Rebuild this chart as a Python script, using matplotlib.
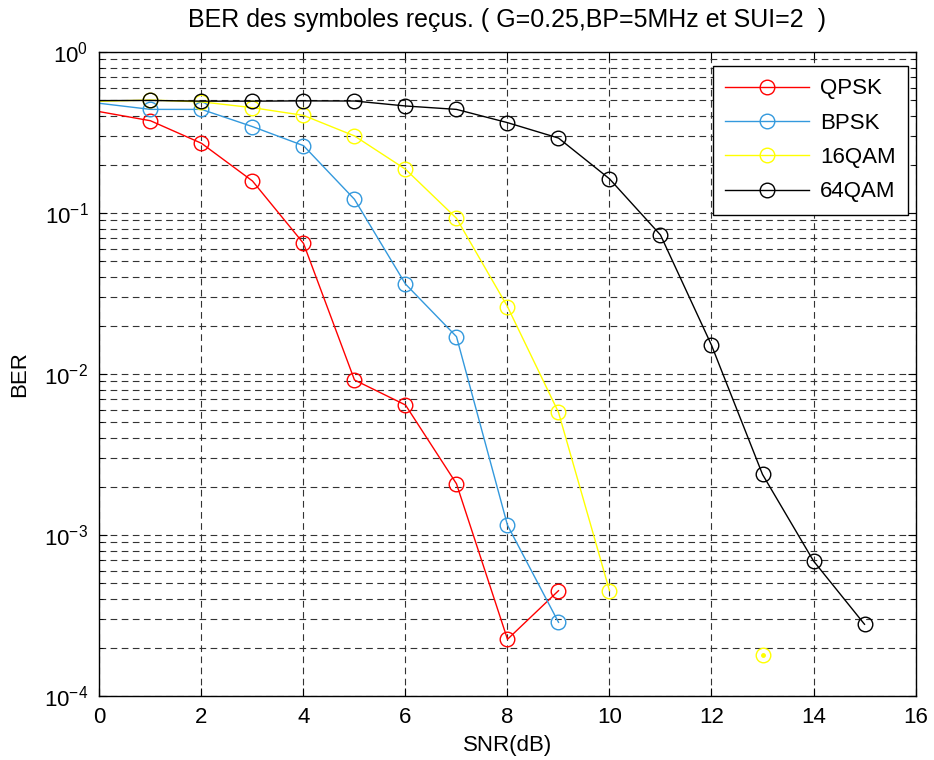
import numpy as np
import matplotlib
matplotlib.use("Agg")
import matplotlib.pyplot as plt
from matplotlib.ticker import LogLocator, NullFormatter

plt.rcParams['font.family'] = ['Liberation Sans', 'DejaVu Sans']
plt.rcParams['mathtext.fontset'] = 'custom'
plt.rcParams['mathtext.rm'] = 'Liberation Sans'
plt.rcParams['mathtext.it'] = 'Liberation Sans'
plt.rcParams['mathtext.default'] = 'regular'

snr = [0, 1, 2, 3, 4, 5, 6, 7, 8, 9, 10, 11, 12, 13, 14, 15]

ber_qpsk = [0.426, 0.374, 0.271, 0.158, 0.0648, 0.00918, 0.00642, 0.00208, 0.000225, 0.000451]
ber_bpsk = [0.48, 0.44, 0.44, 0.344, 0.262, 0.1216, 0.0362, 0.01706, 0.00115, 0.000287]
ber_16qam = [0.494, 0.503, 0.49, 0.451, 0.404, 0.301, 0.187, 0.0927, 0.0262, 0.00578, 0.000451,
             np.nan, np.nan, 0.000179]
ber_64qam = [0.499, 0.5, 0.495, 0.495, 0.497, 0.496, 0.462, 0.44, 0.364, 0.292, 0.163, 0.073,
             0.0151, 0.00238, 0.00069, 0.000279]

labels = ['QPSK', 'BPSK', '16QAM', '64QAM']
colors = ['#ff0000', '#3399dd', '#ffff00', '#000000']
series = [ber_qpsk, ber_bpsk, ber_16qam, ber_64qam]

fig = plt.figure(figsize=(9.34, 7.6), dpi=100)
ax = fig.add_axes([0.1065, 0.0842, 0.8737, 0.8474])

for y, c, lab in zip(series, colors, labels):
    x = snr[:len(y)]
    ax.semilogy(x, y, color=c, lw=1.0, marker='o', markersize=10.5, markerfacecolor='none',
                markeredgecolor=c, markeredgewidth=1.0, markevery=list(range(1, len(y))),
                label=lab)

# lone 16QAM point at 13 dB gets a centre dot
ax.plot(snr[13], ber_16qam[13], '.', color=colors[2], markersize=5)

ax.set_xlim(0, 16)
ax.set_ylim(1e-4, 1)
ax.set_xticks(range(0, 17, 2))
ax.yaxis.set_major_locator(LogLocator(base=10, numticks=10))
ax.yaxis.set_minor_locator(LogLocator(base=10, subs=np.arange(2, 10), numticks=20))
ax.yaxis.set_minor_formatter(NullFormatter())

ax.grid(True, which='major', linestyle=(0, (6, 4)), color='#333333', lw=0.8)
ax.grid(True, which='minor', axis='y', linestyle=(0, (6, 4)), color='#333333', lw=0.8)

ax.tick_params(which='both', direction='in', top=True, right=True, labelsize=16)
ax.tick_params(which='major', length=6, pad=8)
ax.tick_params(which='minor', length=3)
for s in ax.spines.values():
    s.set_linewidth(1.0)

ax.set_title('BER des symboles reçus. ( G=0.25,BP=5MHz et SUI=2  )', fontsize=18, pad=18)
ax.set_xlabel('SNR(dB)', fontsize=16, labelpad=5)
ax.set_ylabel('BER', fontsize=16, labelpad=10)

leg = ax.legend(loc='upper right', fontsize=16, fancybox=False, framealpha=1,
                edgecolor='black', handlelength=3.8, handletextpad=0.5, borderpad=0.55,
                labelspacing=0.6, borderaxespad=0, bbox_to_anchor=(0.991, 0.978))
leg.get_frame().set_linewidth(1.0)

fig.savefig('out.png', dpi=100)
